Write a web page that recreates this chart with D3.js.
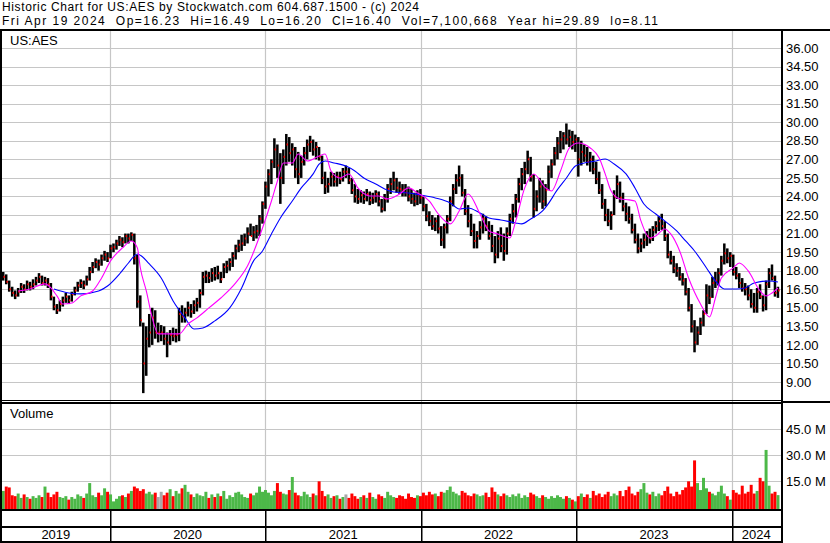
<!DOCTYPE html>
<html><head><meta charset="utf-8">
<script src="https://cdn.jsdelivr.net/npm/d3@7"></script>
<style>
html,body{margin:0;padding:0;background:#fff;}
svg{display:block;font-family:"Liberation Sans",Arial,sans-serif;}
</style></head>
<body><svg id="c" width="830" height="543"></svg>
<script>
// ---- data (weekly bars, Apr 2019 - Apr 2024) ----
const highs = [
17.9,17.7,17.2,16.7,16.4,16.6,17.0,16.9,17.2,17.1,
17.3,17.5,17.8,17.6,17.5,17.4,17.0,15.9,15.3,15.6,
15.9,16.2,16.0,16.3,16.7,17.1,17.3,17.2,17.6,18.3,
18.7,19.0,18.9,19.3,19.6,19.5,20.1,20.2,20.5,20.8,
20.7,21.0,21.0,21.1,21.0,19.3,16.0,13.8,13.5,14.5,
15.0,14.8,13.8,13.6,13.5,13.0,13.2,13.4,13.3,15.0,
15.2,15.0,15.5,15.3,15.6,15.8,16.5,17.9,18.0,17.9,
18.2,18.3,18.4,17.9,18.6,18.8,19.0,19.5,20.1,20.5,
20.9,21.0,21.5,21.8,21.6,21.7,22.5,23.6,25.2,26.2,
27.0,28.7,28.2,27.5,27.8,29.05,28.8,28.3,28.0,27.6,
27.3,28.0,28.6,28.9,28.6,28.4,28.0,27.3,26.0,25.5,
26.0,25.9,26.0,26.0,26.3,26.5,26.3,25.5,25.0,24.6,
24.5,24.4,24.6,24.4,24.3,24.5,24.4,23.8,24.2,25.0,
25.5,26.0,25.5,25.2,25.0,25.0,24.8,24.6,24.3,24.5,
24.6,24.0,23.4,22.8,22.5,22.3,22.5,21.6,21.8,22.5,
24.0,25.0,25.8,26.5,25.8,24.6,23.3,22.6,21.8,21.2,
22.0,22.6,22.4,22.0,21.7,20.8,21.2,21.5,21.0,21.5,
22.6,23.4,24.2,25.5,26.3,26.8,27.7,27.2,25.8,24.5,
25.5,25.3,25.0,26.5,27.0,28.0,28.8,29.3,29.2,29.9,
29.4,29.3,29.0,28.8,28.5,28.2,28.0,27.6,27.3,26.8,
26.0,25.0,23.8,23.0,22.8,24.5,25.7,25.2,24.3,23.5,
23.2,22.6,21.8,21.0,20.6,21.0,21.2,21.4,21.6,22.0,
22.4,22.6,22.0,21.0,19.6,19.2,18.6,18.3,17.8,17.4,
16.6,15.3,14.0,13.5,14.2,14.8,16.9,16.8,17.5,17.9,
18.2,19.2,20.2,19.8,19.5,19.3,18.3,17.8,17.4,17.0,
16.8,16.5,16.2,16.6,16.9,16.0,17.2,18.2,18.5,17.6,16.7];
const lows = [
17.2,16.9,16.3,15.9,15.7,15.9,16.2,16.2,16.4,16.4,
16.5,16.8,17.0,16.8,16.8,16.6,15.6,14.8,14.5,14.7,
15.1,15.4,15.3,15.5,16.0,16.3,16.6,16.5,16.8,17.2,
17.8,18.2,18.0,18.4,18.8,18.7,19.0,19.5,19.7,20.0,
19.9,20.2,20.2,20.4,18.5,15.0,13.5,8.1,9.5,11.8,
12.0,12.5,12.2,12.3,12.0,11.0,12.0,12.3,12.2,12.3,
13.8,13.8,14.3,14.2,14.5,14.7,15.0,16.0,17.0,17.0,
17.1,17.2,17.3,17.0,17.4,17.8,18.0,18.3,18.9,19.5,
19.6,20.0,20.2,20.8,20.4,20.6,20.8,21.8,23.0,24.0,
25.0,26.3,25.5,23.4,25.0,26.5,26.8,26.5,25.5,25.0,
25.5,26.5,27.0,27.6,27.3,27.0,26.9,25.0,24.2,24.3,
24.8,24.8,24.8,25.0,25.2,25.5,25.0,24.2,23.5,23.4,
23.5,23.4,23.6,23.3,23.4,23.5,23.2,22.7,22.8,23.5,
24.2,24.5,24.3,24.2,24.0,24.0,23.6,23.4,23.2,23.3,
23.4,22.8,22.0,21.6,21.3,21.2,21.0,20.0,19.8,21.0,
22.0,23.2,24.2,24.8,24.0,22.5,21.5,20.8,19.8,19.8,
20.5,21.0,21.2,20.5,19.5,18.6,19.0,19.5,18.8,19.3,
20.8,21.8,22.3,23.5,24.5,25.0,25.8,25.2,22.3,22.8,
23.5,23.0,23.2,24.5,25.5,26.5,27.0,27.5,27.8,28.2,
28.0,27.8,27.6,25.6,26.5,26.8,26.5,26.0,25.8,25.0,
24.2,23.0,22.0,21.6,21.3,22.5,23.8,23.5,22.8,22.0,
21.8,21.0,20.2,19.4,19.5,19.8,20.0,20.2,20.4,21.0,
21.2,21.3,20.4,19.0,18.5,17.8,17.5,17.2,16.8,16.0,
14.7,13.0,11.4,12.0,12.8,13.5,14.5,15.3,15.8,16.6,
16.8,17.6,18.5,18.6,18.3,17.6,17.3,16.6,16.3,16.0,
15.6,15.0,14.6,14.6,15.7,14.7,14.8,16.6,17.2,15.9,15.8];
const closes = [
17.5,17.1,16.5,16.2,16.0,16.3,16.7,16.5,16.9,16.7,
16.9,17.2,17.5,17.0,17.2,16.9,15.9,15.1,14.8,15.3,
15.6,15.9,15.6,16.1,16.4,16.8,17.0,16.8,17.3,17.9,
18.3,18.7,18.5,19.0,19.3,19.0,19.8,19.9,20.2,20.5,
20.3,20.8,20.6,20.9,19.0,15.5,14.0,10.5,12.5,13.0,
14.2,13.0,13.0,13.0,12.5,12.2,12.8,12.7,12.8,14.5,
14.3,14.6,15.0,14.7,15.2,15.4,16.2,17.5,17.6,17.4,
17.8,17.6,17.8,17.3,18.3,18.4,18.7,19.2,19.8,20.1,
20.2,20.6,21.0,20.8,21.1,21.2,22.2,23.4,24.8,25.8,
26.8,27.8,26.5,25.5,27.2,28.2,27.5,27.8,26.2,25.8,
26.8,27.5,28.2,28.4,27.8,28.0,27.2,25.5,24.8,25.0,
25.6,25.2,25.6,25.4,26.0,26.0,25.3,24.5,24.0,23.8,
24.1,23.8,24.2,23.7,23.9,24.2,23.6,23.0,23.8,24.6,
25.0,25.3,24.7,24.6,24.5,24.3,24.0,23.8,23.6,24.1,
23.9,23.2,22.4,22.0,21.6,22.0,21.4,20.5,21.5,22.2,
23.6,24.6,25.3,25.5,24.3,22.8,22.0,21.2,20.4,20.8,
21.5,22.2,21.6,20.8,20.0,19.3,20.6,20.0,19.6,21.0,
22.2,22.8,23.8,25.0,25.8,26.2,27.0,25.6,23.0,24.0,
24.8,23.6,24.5,26.0,26.6,27.5,28.3,28.6,28.9,28.6,
28.8,28.4,28.6,27.0,27.6,27.3,26.8,27.0,26.2,25.4,
24.5,23.4,22.5,22.0,22.5,24.0,25.0,23.9,23.2,22.6,
22.2,21.3,20.5,19.8,20.2,20.5,20.8,20.6,21.3,21.6,
22.0,21.6,20.8,19.3,18.8,18.2,18.0,17.5,17.2,16.3,
15.0,13.5,12.2,13.0,13.8,14.5,16.0,15.8,17.0,17.2,
17.8,18.8,19.4,19.0,19.2,17.9,17.6,17.0,16.6,16.5,
16.0,15.3,15.0,16.3,15.9,15.2,16.9,17.8,17.4,16.2,16.4];
// volume, millions of shares
const volumes = [
9.5,12.0,11.5,7.0,6.5,8.0,5.5,7.5,6.0,5.0,
6.5,5.5,7.0,6.0,12.0,8.5,6.0,7.5,9.0,6.0,
5.5,6.5,4.5,6.0,5.0,7.5,6.5,5.5,8.0,14.0,
7.0,6.0,8.5,7.0,11.0,9.0,7.5,3.5,5.0,6.5,
7.0,6.0,8.0,9.5,12.0,11.0,9.5,10.5,8.0,9.0,
7.5,8.5,6.0,9.0,7.0,8.5,10.5,6.5,9.5,8.0,
11.0,13.0,9.0,7.5,6.0,8.0,7.0,6.5,9.0,5.5,
7.5,6.0,8.0,6.5,9.5,5.0,7.0,6.0,8.5,9.0,
7.5,6.0,5.5,8.0,7.0,8.5,12.0,9.0,10.0,8.5,
7.0,9.5,14.0,9.0,8.0,7.5,10.0,17.5,8.5,7.0,
6.5,9.0,7.5,6.0,8.0,7.0,15.0,9.5,6.5,7.5,
5.5,6.5,7.0,5.0,6.0,7.5,5.5,8.0,6.5,5.0,
6.0,7.0,5.5,8.5,6.0,5.0,7.5,6.5,5.5,9.0,
7.0,6.0,5.5,7.0,6.5,5.0,8.0,6.0,5.5,7.0,
6.5,8.5,7.0,9.0,7.5,8.0,6.5,9.0,8.5,10.0,
12.0,9.0,8.0,7.0,9.5,8.5,7.0,6.5,8.0,7.5,
6.5,7.0,8.5,6.0,11.5,9.0,7.5,6.5,8.0,7.0,
6.0,7.5,6.5,8.0,5.5,7.0,6.0,8.5,7.5,6.5,
5.5,7.0,6.0,5.0,6.5,5.5,7.0,6.0,5.0,6.5,
5.5,4.5,3.5,6.5,8.0,6.0,7.5,5.5,9.5,7.0,
8.0,6.0,7.5,9.0,6.5,8.0,7.0,9.5,6.5,10.0,
12.0,8.0,7.0,9.0,10.5,14.0,8.5,7.5,9.0,6.5,
8.0,7.0,9.5,12.0,8.0,6.5,9.0,7.5,10.0,11.5,
15.0,12.0,27.0,14.0,10.0,17.0,11.0,9.0,8.0,7.0,
9.0,12.5,8.0,6.5,4.5,10.0,8.5,7.5,12.5,8.0,
9.0,13.0,8.0,9.5,17.0,15.0,33.0,12.5,8.0,9.0,7.1];
// moving averages (week index, value)
const maShortWeek = [5,9,14,16,18,20,23,26,30,33,36,40,43,45,46,48,50,52,55,59,62,65,69,73,78,82,87,90,92,94,97,99,102,106,108,110,113,116,119,123,126,129,133,136,139,143,146,150,153,156,160,163,166,170,172,175,178,182,184,187,190,193,197,200,202,204,207,210,212,214,217,219,222,224,227,230,234,237,239,241,245,247,250,254,256,258,260];
const maShortVal = [16.36,16.52,16.93,16.60,15.96,15.31,15.39,15.96,16.36,17.41,18.79,19.84,20.40,19.84,18.22,16.36,14.18,12.89,12.89,12.89,13.69,14.18,14.99,15.79,17.01,18.40,21.45,23.63,25.25,26.70,26.70,27.43,26.87,27.27,27.43,26.06,25.49,25.82,24.69,24.04,24.04,23.80,24.20,24.69,24.28,23.63,22.58,21.78,22.83,24.20,22.58,21.21,20.97,20.64,22.02,24.69,25.82,24.69,24.44,26.06,27.92,28.32,27.92,27.11,25.82,24.44,23.80,23.72,23.63,22.02,20.64,20.81,21.37,20.97,19.59,17.41,15.31,14.26,15.79,17.41,18.22,18.62,17.98,16.36,15.96,16.20,16.60];
const maLongWeek = [17,22,26,32,35,39,42,45,49,53,57,61,64,67,71,76,80,84,87,90,93,97,100,104,106,108,111,115,118,121,125,128,131,136,140,145,150,153,156,160,163,167,172,174,177,181,184,185,189,192,195,199,202,205,209,212,215,219,222,226,229,232,236,239,242,246,249,252,257,260];
const maLongVal = [16.52,16.20,16.12,16.36,16.76,17.73,18.62,19.35,18.54,17.41,15.55,14.18,13.29,13.37,13.94,14.99,16.60,18.79,19.59,20.97,22.26,23.63,24.69,25.82,26.62,26.87,26.71,26.46,26.06,25.49,25.01,24.60,24.36,24.28,24.12,23.88,23.47,22.99,23.07,22.66,22.26,22.10,21.86,21.78,22.18,22.83,23.80,24.20,25.49,26.46,26.71,26.87,27.03,26.62,25.82,24.69,23.39,22.58,22.02,21.21,20.40,19.59,18.22,17.17,16.52,16.52,16.60,17.01,17.17,17.09];
const priceTicks = [9,10.5,12,13.5,15,16.5,18,19.5,21,22.5,24,25.5,27,28.5,30,31.5,33,34.5,36];
const volumeTicks = [15,30,45];
const years = [2019,2020,2021,2022,2023,2024];
const headerLine1 = "Historic Chart for US:AES by Stockwatch.com 604.687.1500 - (c) 2024";
const headerLine2 = "Fri Apr 19 2024  Op=16.23  Hi=16.49  Lo=16.20  Cl=16.40  Vol=7,100,668  Year hi=29.89  lo=8.11";

// ---- drawing ----
const svg = d3.select("#c");
const dates = d3.timeFriday.range(new Date(2019,3,26), new Date(2024,3,20));
const x = d3.scaleTime().domain([new Date(2019,3,23), new Date(2024,3,19)]).range([2,778]);
const yP = d3.scaleLinear().domain([9,36]).range([382,48]);
const yV = d3.scaleLinear().domain([0,45]).range([507.5,429]);
const DIV = 781;
const grid = "#c6c6c6";

svg.append("rect").attr("width",830).attr("height",543).attr("fill","#fff");

// header
svg.append("text").attr("x",2).attr("y",11).attr("font-size",12)
  .attr("textLength",417).attr("lengthAdjust","spacing").attr("fill","#000").text(headerLine1);
svg.append("text").attr("x",2).attr("y",24.5).attr("font-size",12)
  .attr("textLength",656).attr("lengthAdjust","spacing").attr("fill","#000")
  .style("white-space","pre").text(headerLine2);

// price grid
svg.selectAll("line.h").data(priceTicks).join("line")
  .attr("x1",2).attr("x2",DIV).attr("y1",d=>Math.round(yP(d))+0.5).attr("y2",d=>Math.round(yP(d))+0.5)
  .attr("stroke",grid).attr("stroke-width",1);
// volume grid
svg.selectAll("line.vg").data(volumeTicks).join("line")
  .attr("x1",2).attr("x2",DIV).attr("y1",d=>Math.round(yV(d))+0.5).attr("y2",d=>Math.round(yV(d))+0.5)
  .attr("stroke",grid).attr("stroke-width",1);
// year gridlines
const yearStarts = years.slice(1).map(y=>new Date(y,0,1));
svg.selectAll("line.yg").data(yearStarts).join("line")
  .attr("x1",d=>Math.round(x(d))+0.5).attr("x2",d=>Math.round(x(d))+0.5)
  .attr("y1",31).attr("y2",509).attr("stroke",grid).attr("stroke-width",1.2);

// clip for price panel
svg.append("clipPath").attr("id","pc").append("rect").attr("x",2).attr("y",31).attr("width",DIV-2).attr("height",369);

const gBars = svg.append("g").attr("clip-path","url(#pc)");
gBars.selectAll("rect.b").data(dates).join("rect")
  .attr("x",(d)=>x(d)-1.3).attr("width",2.5)
  .attr("y",(d,i)=>yP(highs[i]))
  .attr("height",(d,i)=>Math.max(1,yP(lows[i])-yP(highs[i])))
  .attr("fill","#000");
gBars.selectAll("rect.c").data(dates).join("rect")
  .attr("x",(d)=>x(d)+0.2).attr("width",1.4)
  .attr("y",(d,i)=>yP(closes[i])-1).attr("height",2)
  .attr("fill","#ff0000");

const lineS = d3.line().x(d=>x(dates[d[0]])).y(d=>yP(d[1])).curve(d3.curveMonotoneX);
gBars.append("path").attr("d",lineS(d3.zip(maLongWeek,maLongVal)))
  .attr("fill","none").attr("stroke","#0000ff").attr("stroke-width",1.1);
gBars.append("path").attr("d",lineS(d3.zip(maShortWeek,maShortVal)))
  .attr("fill","none").attr("stroke","#ff00ff").attr("stroke-width",1.1);

svg.append("text").attr("x",10).attr("y",45).attr("font-size",13).attr("fill","#000").text("US:AES");

// volume bars
const step = x(dates[1]) - x(dates[0]);
svg.append("g").selectAll("rect").data(dates).join("rect")
  .attr("x",d=>x(d)-step/2).attr("width",step)
  .attr("y",(d,i)=>yV(volumes[i]))
  .attr("height",(d,i)=>yV(0)-yV(volumes[i])+2)
  .attr("fill",(d,i)=> i===0 || closes[i]>closes[i-1] ? "#4cb848" : (closes[i]<closes[i-1] ? "#ff0000" : "#a8a8a8"));

svg.append("text").attr("x",10).attr("y",418).attr("font-size",13).attr("fill","#000").text("Volume");

// axes
const axP = svg.append("g").attr("transform",`translate(${DIV},0)`)
  .call(d3.axisRight(yP).tickValues(priceTicks).tickFormat(d3.format(".2f")).tickSize(0).tickPadding(5));
const axV = svg.append("g").attr("transform",`translate(${DIV},0)`)
  .call(d3.axisRight(yV).tickValues(volumeTicks).tickFormat(d=>d.toFixed(1)+" M").tickSize(0).tickPadding(5));
[axP,axV].forEach(a=>{
  a.select(".domain").remove();
  a.selectAll("text").attr("font-size",13).attr("font-family","Liberation Sans, Arial, sans-serif").attr("fill","#000");
});

// frame lines
const blk = (x0,y0,w,h)=>svg.append("rect").attr("x",x0).attr("y",y0).attr("width",w).attr("height",h).attr("fill","#000");
blk(0,29,830,2);
blk(0,29,2,514);
blk(DIV,29,2,514);
blk(0,400,DIV,1);
blk(0,402,DIV,2);
blk(DIV,401,49,2);
blk(0,509,DIV,2);
blk(0,526,DIV,2);
blk(0,541,DIV,2);
svg.selectAll("rect.yd").data(yearStarts).join("rect")
  .attr("x",d=>Math.round(x(d))).attr("width",1.5).attr("y",510).attr("height",32).attr("fill","#000");

// year labels
const bounds = [2, ...yearStarts.map(d=>x(d)), DIV];
svg.selectAll("text.yr").data(years).join("text")
  .attr("x",(d,i)=>(bounds[i]+bounds[i+1])/2).attr("y",539)
  .attr("text-anchor","middle").attr("font-size",13).attr("fill","#000").text(d=>d);
</script></body></html>
